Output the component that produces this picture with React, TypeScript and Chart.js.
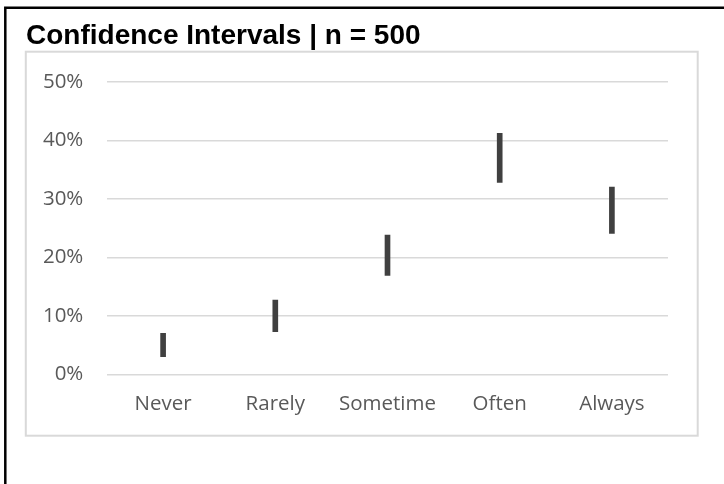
import React, { useEffect, useRef } from "react";
import { Chart, registerables } from "chart.js";

Chart.register(...registerables);

const titleText = "Confidence Intervals | n = 500";
const categories = ["Never", "Rarely", "Sometime", "Often", "Always"];
const lowerBounds = [3.0, 7.3, 16.9, 32.8, 24.1];
const upperBounds = [7.0, 12.7, 23.8, 41.2, 32.0];
const yMin = 0;
const yMax = 50;
const yStep = 10;

const framePlugin = {
  id: "frame",
  beforeDraw(chart: any) {
    const ctx = chart.ctx;
    ctx.save();
    ctx.fillStyle = "#ffffff";
    ctx.fillRect(0, 0, chart.width, chart.height);
    // inner light-grey chart box
    ctx.strokeStyle = "#d9d9d9";
    ctx.lineWidth = 2;
    ctx.strokeRect(25.8, 51.7, 697.7 - 25.8, 435.7 - 51.7);
    // outer black border (left + top)
    ctx.strokeStyle = "#000000";
    ctx.lineWidth = 2.5;
    ctx.beginPath();
    ctx.moveTo(5.3, chart.height);
    ctx.lineTo(5.3, 7.7);
    ctx.lineTo(chart.width, 7.7);
    ctx.stroke();
    ctx.restore();
  },
};

export default function App() {
  const ref = useRef<HTMLCanvasElement>(null);

  useEffect(() => {
    document.body.style.margin = "0";
    const canvas = ref.current;
    if (!canvas) return;
    const chart = new Chart(canvas, {
      type: "bar",
      data: {
        labels: categories,
        datasets: [
          {
            label: "CI",
            data: categories.map((_, i) => [lowerBounds[i], upperBounds[i]]) as any,
            backgroundColor: "#404040",
            borderWidth: 0,
            barThickness: 5,
          },
        ],
      },
      options: {
        responsive: false,
        animation: false,
        layout: { padding: { left: 26, right: 56, top: 0, bottom: 0 } },
        plugins: {
          legend: { display: false },
          tooltip: { enabled: false },
          title: {
            display: true,
            text: titleText,
            align: "start",
            color: "#000000",
            font: { family: "'Liberation Sans', Arial, sans-serif", size: 28, weight: "bold", lineHeight: 1.2 },
            padding: { top: 19.5, bottom: 28.7 },
          },
        },
        scales: {
          x: {
            grid: { display: false, drawTicks: false },
            border: { display: false },
            ticks: {
              color: "#595959",
              padding: 17.7,
              font: { family: "'Open Sans', sans-serif", size: 20.5, lineHeight: 1.2 },
            },
            afterFit(scale: any) {
              scale.height = 109.7;
            },
          },
          y: {
            min: yMin,
            max: yMax,
            grid: { color: "#d9d9d9", lineWidth: 1.5, drawTicks: false },
            border: { display: false },
            ticks: {
              stepSize: yStep,
              color: "#595959",
              padding: 23.7,
              font: { family: "'Open Sans', sans-serif", size: 20.5, lineHeight: 1.2 },
              callback: (v: any) => `${v}%`,
            },
            afterFit(scale: any) {
              scale.width = 81;
            },
          },
        },
      },
      plugins: [framePlugin],
    });
    return () => chart.destroy();
  }, []);

  return (
    <div style={{ width: 724, height: 484 }}>
      <canvas ref={ref} width={724} height={484} style={{ display: "block" }} />
    </div>
  );
}
